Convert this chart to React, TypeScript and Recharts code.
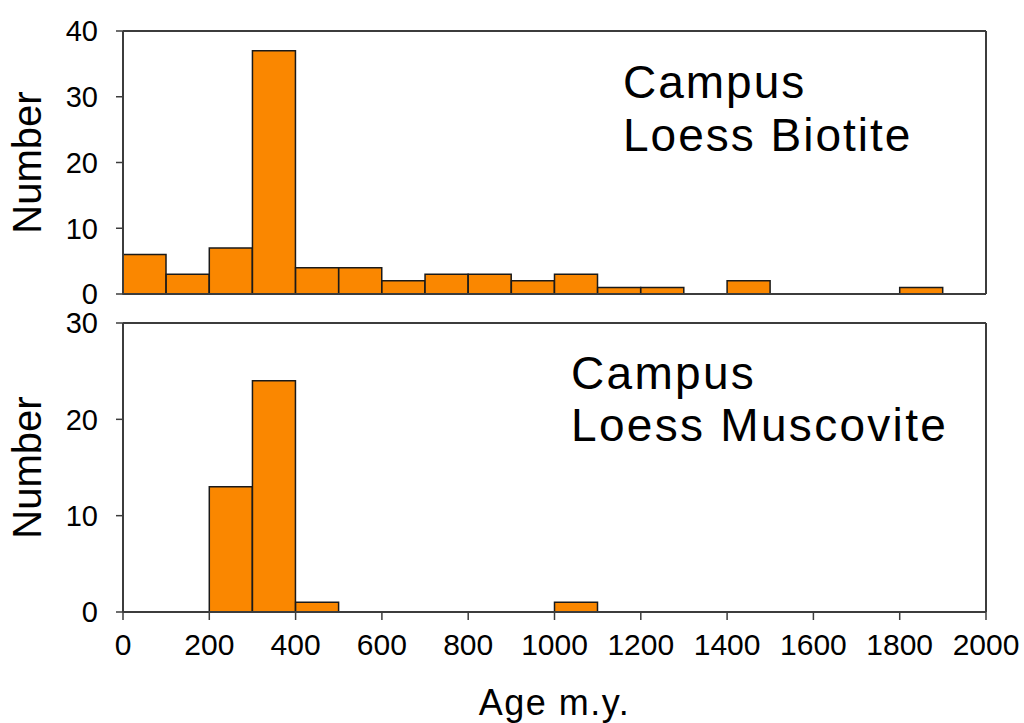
import React from 'react';
import { BarChart, Bar, XAxis, YAxis, ReferenceLine } from 'recharts';

const binStarts = [0, 100, 200, 300, 400, 500, 600, 700, 800, 900, 1000, 1100, 1200, 1300, 1400, 1500, 1600, 1700, 1800, 1900];
const binWidth = 100;
const biotiteCounts: (number | null)[] = [6, 3, 7, 37, 4, 4, 2, 3, 3, 2, 3, 1, 1, null, 2, null, null, null, 1, null];
const muscoviteCounts: (number | null)[] = [null, null, 13, 24, 1, null, null, null, null, null, 1, null, null, null, null, null, null, null, null, null];
const xTicks = [0, 200, 400, 600, 800, 1000, 1200, 1400, 1600, 1800, 2000];
const biotiteYTicks = [0, 10, 20, 30, 40];
const muscoviteYTicks = [0, 10, 20, 30];

const biotiteData = binStarts.map((s, i) => ({ age: s + binWidth / 2, count: biotiteCounts[i] }));
const muscoviteData = binStarts.map((s, i) => ({ age: s + binWidth / 2, count: muscoviteCounts[i] }));

const FONT = '"Liberation Sans", Arial, sans-serif';
const AXIS = '#3c3c3c';
const ORANGE = '#FA8700';

export default function App() {
  return (
    <div style={{ position: 'absolute', left: 0, top: 0, width: 1024, height: 723, fontFamily: FONT, background: '#fff' }}>
      <div style={{ position: 'absolute', left: 0, top: 0 }}>
        <BarChart width={1024} height={318} data={biotiteData} margin={{ top: 31, right: 38, bottom: 12, left: 0 }} barCategoryGap={0} barGap={0}>
          <XAxis dataKey="age" type="number" domain={[0, 2000]} ticks={xTicks} interval={0} tick={false} tickSize={8} height={12}
            axisLine={{ stroke: AXIS, strokeWidth: 2 }} tickLine={{ stroke: AXIS, strokeWidth: 1.5 }} />
          <YAxis type="number" domain={[0, 40]} ticks={biotiteYTicks} interval={0} width={123} tickSize={7} tickMargin={18}
            tick={{ fill: '#000', fontSize: 29, fontFamily: FONT }}
            axisLine={{ stroke: AXIS, strokeWidth: 2 }} tickLine={{ stroke: AXIS, strokeWidth: 1.5 }}
            label={{ value: 'Number', angle: -90, position: 'insideLeft', offset: 27, style: { textAnchor: 'middle', fontSize: 40, fill: '#000', fontFamily: FONT } }} />
          <ReferenceLine y={40} stroke={AXIS} strokeWidth={2} />
          <ReferenceLine x={2000} stroke={AXIS} strokeWidth={2} />
          <Bar dataKey="count" fill={ORANGE} stroke="#1a1a1a" strokeWidth={1.5} isAnimationActive={false} />
        </BarChart>
      </div>
      <div style={{ position: 'absolute', left: 0, top: 300 }}>
        <BarChart width={1024} height={423} data={muscoviteData} margin={{ top: 23, right: 38, bottom: 0, left: 0 }} barCategoryGap={0} barGap={0}>
          <XAxis dataKey="age" type="number" domain={[0, 2000]} ticks={xTicks} interval={0} tickSize={8} tickMargin={14} height={111}
            tick={{ fill: '#000', fontSize: 30, fontFamily: FONT }}
            axisLine={{ stroke: AXIS, strokeWidth: 2 }} tickLine={{ stroke: AXIS, strokeWidth: 1.5 }}
            label={{ value: 'Age m.y.', position: 'insideBottom', offset: 8, style: { fontSize: 36, letterSpacing: 1.5, fill: '#000', fontFamily: FONT } }} />
          <YAxis type="number" domain={[0, 30]} ticks={muscoviteYTicks} interval={0} width={123} tickSize={7} tickMargin={18}
            tick={{ fill: '#000', fontSize: 29, fontFamily: FONT }}
            axisLine={{ stroke: AXIS, strokeWidth: 2 }} tickLine={{ stroke: AXIS, strokeWidth: 1.5 }}
            label={{ value: 'Number', angle: -90, position: 'insideLeft', offset: 27, style: { textAnchor: 'middle', fontSize: 40, fill: '#000', fontFamily: FONT } }} />
          <ReferenceLine y={30} stroke={AXIS} strokeWidth={2} />
          <ReferenceLine x={2000} stroke={AXIS} strokeWidth={2} />
          <Bar dataKey="count" fill={ORANGE} stroke="#1a1a1a" strokeWidth={1.5} isAnimationActive={false} />
        </BarChart>
      </div>
      <div style={{ position: 'absolute', left: 623, top: 56, fontSize: 46, lineHeight: '53px', letterSpacing: 2, color: '#000', whiteSpace: 'nowrap' }}>
        <div>Campus</div>
        <div>Loess Biotite</div>
      </div>
      <div style={{ position: 'absolute', left: 571, top: 347, fontSize: 46, lineHeight: '52px', letterSpacing: 2.3, color: '#000', whiteSpace: 'nowrap' }}>
        <div>Campus</div>
        <div>Loess Muscovite</div>
      </div>
    </div>
  );
}
